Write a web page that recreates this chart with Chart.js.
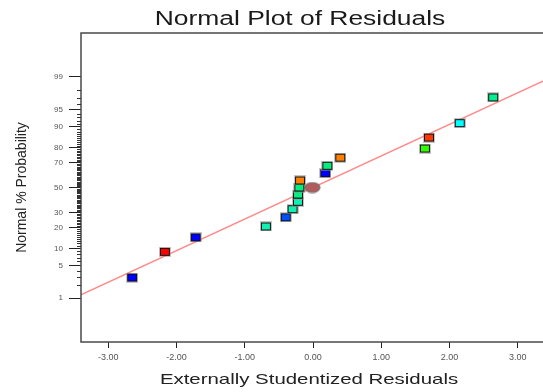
<!DOCTYPE html>
<html>
<head>
<meta charset="utf-8">
<script src="https://cdn.jsdelivr.net/npm/chart.js@4.4.1/dist/chart.umd.min.js"></script>
<style>
  html, body { margin: 0; padding: 0; background: #fff; overflow: hidden; }
  #wrap { position: absolute; left: 0; top: 0; width: 560px; height: 392px; }
</style>
</head>
<body>
<div id="wrap"><canvas id="c" width="560" height="392"></canvas></div>
<script>
// residual points (x = studentized residual, y = normal % probability)
var resid = [-2.65, -2.17, -1.72, -0.69, -0.40, -0.30, -0.22, -0.22, -0.20, -0.19, 0.18, 0.21, 0.40, 1.64, 1.70, 2.15, 2.64];
var probPct = [2.9, 8.8, 14.7, 20.6, 26.5, 32.4, 38.2, 44.1, 50.0, 55.9, 61.8, 67.6, 73.5, 79.4, 85.3, 91.2, 97.1];
var pointColors = ["#0000ff", "#ff0000", "#0000ff", "#10f0b0", "#0050ff", "#10f0b0", "#10f0b0", "#00f080",
  "#00f080", "#ff8000", "#0000ff", "#00f080", "#ff8000", "#30ff00", "#ff3800", "#00ffff", "#00f090"];
// the round marker sitting on the 50% line
var centerResid = [-0.01];
var centerPct = [50.0];
// reference line
var lineResid = [-3.4, 3.4];
var linePct = [1.2, 98.8];
// axes
var xTicks = [-3, -2, -1, 0, 1, 2, 3];
var yTickPct = [1, 5, 10, 20, 30, 50, 70, 80, 90, 95, 99];
var yMinorPct = [2, 3, 4, 6, 7, 8, 9, 11, 12, 13, 14, 15, 16, 17, 18, 19, 21, 22, 23, 24, 25, 26, 27, 28, 29,
  31, 32, 33, 34, 35, 36, 37, 38, 39, 40, 41, 42, 43, 44, 45, 46, 47, 48, 49, 51, 52, 53, 54, 55, 56, 57, 58, 59,
  60, 61, 62, 63, 64, 65, 66, 67, 68, 69, 71, 72, 73, 74, 75, 76, 77, 78, 79, 81, 82, 83, 84, 85, 86, 87, 88, 89,
  91, 92, 93, 94, 96, 97, 98];

// inverse normal cdf (Acklam) — maps % probability onto the normal scale
function probit(p) {
  var a = [-39.69683028665376, 220.9460984245205, -275.9285104469687, 138.357751867269, -30.66479806614716, 2.506628277459239];
  var b = [-54.47609879822406, 161.5858368580409, -155.6989798598866, 66.80131188771972, -13.28068155288572];
  var c = [-0.007784894002430293, -0.3223964580411365, -2.400758277161838, -2.549732539343734, 4.374664141464968, 2.938163982698783];
  var d = [0.007784695709041462, 0.3224671290700398, 2.445134137142996, 3.754408661907416];
  var pl = 0.02425, q, r;
  if (p < pl) {
    q = Math.sqrt(-2 * Math.log(p));
    return (((((c[0] * q + c[1]) * q + c[2]) * q + c[3]) * q + c[4]) * q + c[5]) / ((((d[0] * q + d[1]) * q + d[2]) * q + d[3]) * q + 1);
  }
  if (p > 1 - pl) {
    q = Math.sqrt(-2 * Math.log(1 - p));
    return -(((((c[0] * q + c[1]) * q + c[2]) * q + c[3]) * q + c[4]) * q + c[5]) / ((((d[0] * q + d[1]) * q + d[2]) * q + d[3]) * q + 1);
  }
  q = p - 0.5; r = q * q;
  return (((((a[0] * r + a[1]) * r + a[2]) * r + a[3]) * r + a[4]) * r + a[5]) * q / (((((b[0] * r + b[1]) * r + b[2]) * r + b[3]) * r + b[4]) * r + 1);
}
function z(pct) { return probit(pct / 100); }

// little boxed markers with a soft grey halo
function boxMarker(color) {
  var cv = document.createElement("canvas");
  cv.width = 12; cv.height = 10;
  var g = cv.getContext("2d");
  g.fillStyle = "rgba(150,150,150,0.55)"; g.fillRect(0, 0, 12, 10);
  g.fillStyle = "#111"; g.fillRect(1, 1, 10, 8);
  g.fillStyle = color; g.fillRect(2, 2, 8, 6);
  return cv;
}
function ovalMarker() {
  var cv = document.createElement("canvas");
  cv.width = 17; cv.height = 12;
  var g = cv.getContext("2d");
  g.beginPath(); g.ellipse(8.5, 6, 7.5, 4.8, 0, 0, Math.PI * 2);
  g.fillStyle = "#b35c5c"; g.fill();
  g.lineWidth = 1.2; g.strokeStyle = "#7a6a6a"; g.stroke();
  return cv;
}

// the source image is stretched sideways, so horizontal text gets a scaleX
function wideText(ctx, text, x, y, sx) {
  ctx.save();
  ctx.translate(x, y); ctx.scale(sx, 1);
  ctx.fillText(text, 0, 0);
  ctx.restore();
}

var frame = {
  id: "frame",
  afterDraw: function (chart) {
    var a = chart.chartArea, ctx = chart.ctx, ys = chart.scales.y;
    ctx.save();
    ctx.strokeStyle = "#4a4a4a"; ctx.lineWidth = 1.5;
    ctx.strokeRect(a.left, a.top, a.right - a.left, a.bottom - a.top);
    // short minor ticks on the probability axis
    ctx.lineWidth = 1; ctx.strokeStyle = "#333";
    yMinorPct.forEach(function (p) {
      var py = Math.round(ys.getPixelForValue(z(p))) + 0.5;
      ctx.beginPath(); ctx.moveTo(a.left - 4, py); ctx.lineTo(a.left, py); ctx.stroke();
    });
    ctx.textAlign = "center"; ctx.textBaseline = "middle";
    ctx.fillStyle = "#1a1a1a";
    ctx.font = "20px 'Liberation Sans', Arial, sans-serif";
    wideText(ctx, "Normal Plot of Residuals", 300, 19, 1.32);
    ctx.fillStyle = "#222";
    ctx.font = "15px 'Liberation Sans', Arial, sans-serif";
    wideText(ctx, "Externally Studentized Residuals", 309, 380, 1.36);
    ctx.restore();
  }
};

new Chart(document.getElementById("c"), {
  type: "scatter",
  data: {
    datasets: [{
      data: resid.map(function (v, i) { return { x: v, y: z(probPct[i]) }; }),
      pointStyle: pointColors.map(boxMarker),
      pointRadius: 6
    }, {
      data: centerResid.map(function (v, i) { return { x: v, y: z(centerPct[i]) }; }),
      pointStyle: ovalMarker(),
      pointRadius: 7
    }, {
      type: "line",
      data: lineResid.map(function (v, i) { return { x: v, y: z(linePct[i]) }; }),
      borderColor: "#ff8a8a", borderWidth: 1.3, pointRadius: 0, fill: false
    }]
  },
  options: {
    responsive: false, animation: false,
    layout: { padding: { top: 33, right: 15, left: 0, bottom: 0 } },
    plugins: { legend: { display: false }, tooltip: { enabled: false }, title: { display: false } },
    scales: {
      x: {
        type: "linear", min: -3.4, max: 3.4,
        afterBuildTicks: function (s) { s.ticks = xTicks.map(function (v) { return { value: v }; }); },
        afterFit: function (s) { s.height = 50; },
        ticks: {
          callback: function (v) { return v.toFixed(2); },
          color: "#555", font: { family: "'Liberation Sans', Arial", size: 9 }, padding: 4, maxRotation: 0
        },
        grid: { drawOnChartArea: false, tickLength: 6, tickColor: "#222" },
        border: { display: false }
      },
      y: {
        type: "linear", min: -3.25, max: 3.25,
        afterBuildTicks: function (s) { s.ticks = yTickPct.map(function (p) { return { value: z(p) }; }); },
        afterFit: function (s) { s.width = 81; },
        ticks: {
          callback: function (v, i) { return String(yTickPct[i]); },
          color: "#555", font: { family: "'Liberation Sans', Arial", size: 8 }, padding: 6
        },
        grid: { drawOnChartArea: false, tickLength: 12, tickColor: "#222" },
        border: { display: false },
        title: {
          display: true, text: "Normal % Probability", color: "#222",
          font: { family: "'Liberation Sans', Arial", size: 14 }, padding: { top: 14, bottom: 0 }
        }
      }
    }
  },
  plugins: [frame]
});
</script>
</body>
</html>
